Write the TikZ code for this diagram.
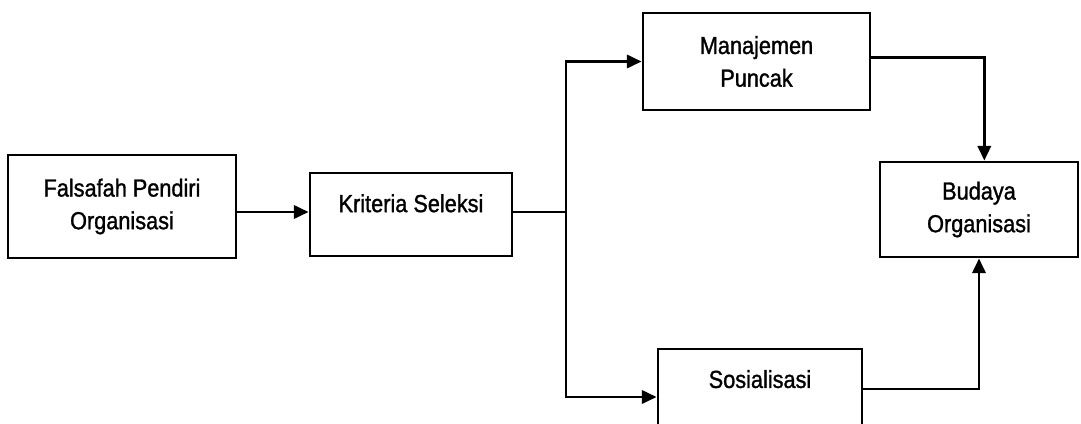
\documentclass[tikz,border=0pt]{standalone}
\usepackage{fontspec}
\setmainfont{Liberation Sans}[FakeStretch=0.88,FakeBold=1.2]
\usetikzlibrary{arrows.meta}

\tikzset{every picture/.style={line width=0.75pt}}
\tikzset{
  kotak/.style={draw, line width=2.2pt, rectangle, inner sep=0pt, align=center, font=\fontsize{18.5}{24.5}\selectfont},
  garis/.style={line width=1.9pt},
  panah/.style={line width=1.9pt, -{Triangle[length=11pt,width=10pt]}}
}

\begin{document}
\begin{tikzpicture}[x=0.75pt,y=0.75pt,yscale=-1,xscale=1]
\useasboundingbox (0,0) rectangle (1081,424);
\clip (0,0) rectangle (1081,424);

%Shape: Rectangle (falsafah)
\node (falsafah) [kotak, minimum width=171pt, minimum height=77.25pt] at (122,206.5) {Falsafah Pendiri\\Organisasi};
%Shape: Rectangle (kriteria)
\node (kriteria) [kotak, minimum width=151.5pt, minimum height=62.25pt, text depth=17pt] at (411,214.5) {Kriteria Seleksi};
%Shape: Rectangle (manajemen)
\node (manajemen) [kotak, minimum width=170.25pt, minimum height=72.75pt] at (756.5,61.5) {Manajemen\\Puncak};
%Shape: Rectangle (budaya)
\node (budaya) [kotak, minimum width=148.5pt, minimum height=71.25pt] at (979,209.5) {Budaya\\Organisasi};
%Shape: Rectangle (sosialisasi)
\node (sosialisasi) [kotak, minimum width=153pt, minimum height=60pt, text depth=15pt] at (760,389) {Sosialisasi};

\coordinate (cabang) at (566,212);

%Straight Lines
\draw [panah] (falsafah.east |- cabang) -- (kriteria.west |- cabang);
\draw [garis] (kriteria.east |- cabang) -- (cabang);
\draw [panah] (cabang) |- (manajemen.west);
\draw [panah] (cabang) |- ([yshift=6pt]sosialisasi.west);
\draw [panah] ([yshift=-3pt]manajemen.east) -| ([xshift=4pt]budaya.north);
\draw [panah] (sosialisasi.east) -| (budaya.south);

\end{tikzpicture}
\end{document}
